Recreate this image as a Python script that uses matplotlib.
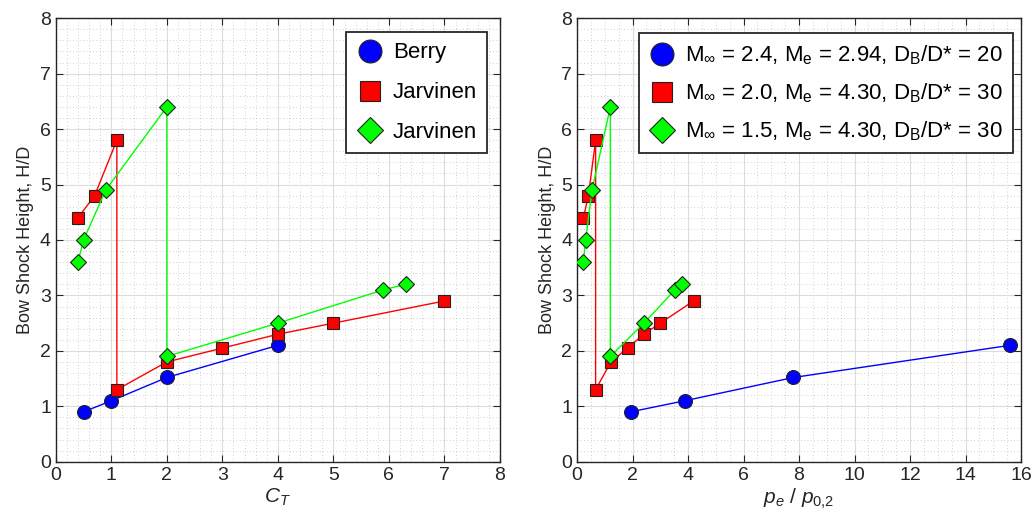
import numpy as np
import matplotlib
matplotlib.use('Agg')
import matplotlib.pyplot as plt
from matplotlib.ticker import MultipleLocator

plt.rcParams['font.family'] = ['Liberation Sans', 'DejaVu Sans']
plt.rcParams['mathtext.fontset'] = 'custom'
plt.rcParams['mathtext.rm'] = 'Liberation Sans'
plt.rcParams['mathtext.it'] = 'Liberation Sans:italic'
plt.rcParams['mathtext.default'] = 'regular'

# left panel: thrust coefficient
ct_berry = [0.5, 1.0, 2.0, 4.0]
hd_berry = [0.9, 1.1, 1.52, 2.1]
ct_jar1 = [0.4, 0.7, 1.1, 1.1, 2.0, 3.0, 4.0, 5.0, 7.0]
hd_jar1 = [4.4, 4.8, 5.8, 1.3, 1.8, 2.05, 2.3, 2.5, 2.9]
ct_jar2 = [0.4, 0.5, 0.9, 2.0, 2.0, 4.0, 5.9, 6.3]
hd_jar2 = [3.6, 4.0, 4.9, 6.4, 1.9, 2.5, 3.1, 3.2]

# right panel: pressure ratio
pr_berry = [1.93, 3.88, 7.8, 15.6]
pr_jar1 = [0.23, 0.41, 0.67, 0.67, 1.22, 1.82, 2.41, 3.0, 4.2]
pr_jar2 = [0.23, 0.31, 0.54, 1.2, 1.2, 2.41, 3.53, 3.78]

labels_left = ['Berry', 'Jarvinen', 'Jarvinen']
labels_right = [r'M$_\infty$ = 2.4, M$_e$ = 2.94, D$_B$/D* = 20',
                r'M$_\infty$ = 2.0, M$_e$ = 4.30, D$_B$/D* = 30',
                r'M$_\infty$ = 1.5, M$_e$ = 4.30, D$_B$/D* = 30']

fig = plt.figure(figsize=(10.33, 5.2), dpi=100)
ax1 = fig.add_axes([0.054, 0.112, 0.430, 0.853])
ax2 = fig.add_axes([0.5586, 0.112, 0.4298, 0.853])

styles = [dict(color='#0000ff', marker='o', ms=10, mfc='#0000ff'),
          dict(color='#ff0000', marker='s', ms=9, mfc='#ff0000'),
          dict(color='#00ff00', marker='D', ms=8, mfc='#00ff00')]


def draw(ax, xs, ys, labels, xmax, xmaj, xmin, xlabel, anchor, spacing):
    for x, y, lab, st in zip(xs, ys, labels, styles):
        ax.plot(x, y, color=st['color'], lw=1, marker=st['marker'],
                ms=st['ms'], mfc=st['mfc'], mec='#222222', mew=0.8,
                label=lab, zorder=3)
    ax.set_xlim(0, xmax)
    ax.set_ylim(0, 8)
    ax.xaxis.set_major_locator(MultipleLocator(xmaj))
    ax.xaxis.set_minor_locator(MultipleLocator(xmin))
    ax.yaxis.set_major_locator(MultipleLocator(1))
    ax.yaxis.set_minor_locator(MultipleLocator(0.2))
    ax.grid(which='major', color='#dcdcdc', lw=0.8)
    ax.grid(which='minor', color='#c0c0c0', lw=0.6, ls=(0, (1, 3)))
    ax.set_axisbelow(True)
    ax.tick_params(which='both', direction='in', top=True, right=True,
                   labelsize=14, colors='#262626')
    ax.tick_params(which='major', length=5)
    ax.tick_params(which='minor', length=0)
    for s in ax.spines.values():
        s.set_color('#262626')
        s.set_linewidth(1)
    ax.set_ylabel('Bow Shock Height, H/D', fontsize=13, color='#262626',
                  labelpad=4)
    ax.set_xlabel(xlabel, fontsize=15, color='#262626', labelpad=2)
    leg = ax.legend(loc='upper right', bbox_to_anchor=anchor,
                    fontsize=16, markerscale=1.65,
                    fancybox=False, framealpha=1, edgecolor='#262626',
                    handlelength=1.2, handletextpad=0.45, borderpad=0.45,
                    labelspacing=spacing, borderaxespad=0)
    leg.get_frame().set_linewidth(1.3)
    for line in leg.get_lines():
        line.set_linestyle('none')


draw(ax1, [ct_berry, ct_jar1, ct_jar2], [hd_berry, hd_jar1, hd_jar2],
     labels_left, 8, 1, 0.2, r'$\mathit{C_T}$', (0.971, 0.968), 0.85)
draw(ax2, [pr_berry, pr_jar1, pr_jar2], [hd_berry, hd_jar1, hd_jar2],
     labels_right, 16, 2, 0.5, r'$\mathit{p_e}$ / $\mathit{p_{0{,}2}}$',
     (0.982, 0.966), 0.65)

fig.savefig('out.png', dpi=100)
